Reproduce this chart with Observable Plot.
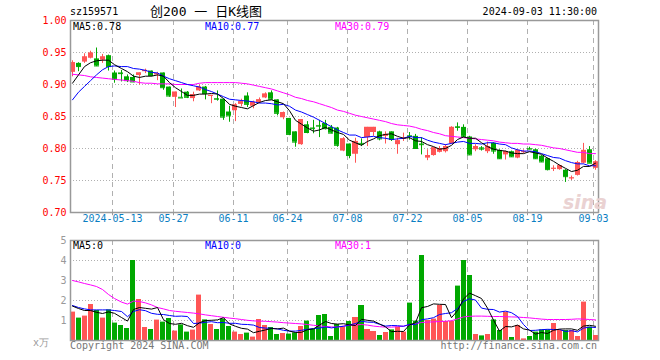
<!DOCTYPE html>
<html><head><meta charset="utf-8">
<script src="https://cdn.jsdelivr.net/npm/d3@7"></script>
<script src="https://cdn.jsdelivr.net/npm/@observablehq/plot@0.6"></script>
<style>
body{margin:0;background:#fff;}
#wrap{position:relative;width:660px;height:360px;overflow:hidden;font-family:"DejaVu Sans Mono",monospace;font-size:10px;}
.t{position:absolute;white-space:nowrap;line-height:10px;}
.plot{position:absolute;left:0;}
</style></head><body>
<div id="wrap">
  <div class="t" style="left:70px;top:7px;">sz159571</div>
  <div class="t" style="left:150px;top:5px;font-size:13px;line-height:13px;font-family:'DejaVu Sans Mono','Noto Sans CJK SC',monospace;">创200 一 日K线图</div>
  <div class="t" style="right:63px;top:7px;">2024-09-03 11:30:00</div>
  <div id="p1" class="plot" style="top:0"></div>
  <div id="p2" class="plot" style="top:230px"></div>
  <div class="t" style="left:73px;top:22px;color:#000">MA5:0.78</div>
  <div class="t" style="left:205px;top:22px;color:#0000ff">MA10:0.77</div>
  <div class="t" style="left:335px;top:22px;color:#ff00ff">MA30:0.79</div>
  <div class="t" style="left:73px;top:241px;color:#000">MA5:0</div>
  <div class="t" style="left:205px;top:241px;color:#0000ff">MA10:0</div>
  <div class="t" style="left:335px;top:241px;color:#ff00ff">MA30:1</div>
  <div class="t" style="left:33px;top:338px;color:#999">x万</div>
  <div class="t" style="left:70px;top:341px;color:#777">Copyright 2024 SINA.COM</div>
  <div class="t" style="right:63px;top:341px;color:#777">http://finance.sina.com.cn</div>
  <div class="t" style="left:563px;top:193px;font-family:'DejaVu Sans',sans-serif;font-size:19px;line-height:19px;font-weight:bold;font-style:italic;color:#ead2d2">sina</div>
</div>
<script>
// trading dates (MM-DD, 2024)
const dates = ["04-29","04-30",
"05-06","05-07","05-08","05-09","05-10","05-13","05-14","05-15","05-16","05-17","05-20","05-21","05-22","05-23","05-24","05-27","05-28","05-29","05-30","05-31",
"06-03","06-04","06-05","06-06","06-07","06-11","06-12","06-13","06-14","06-17","06-18","06-19","06-20","06-21","06-24","06-25","06-26","06-27","06-28",
"07-01","07-02","07-03","07-04","07-05","07-08","07-09","07-10","07-11","07-12","07-15","07-16","07-17","07-18","07-19","07-22","07-23","07-24","07-25","07-26","07-29","07-30","07-31",
"08-01","08-02","08-05","08-06","08-07","08-08","08-09","08-12","08-13","08-14","08-15","08-16","08-19","08-20","08-21","08-22","08-23","08-26","08-27","08-28","08-29","08-30",
"09-02","09-03"];
const tickDates = ["05-13","05-27","06-11","06-24","07-08","07-22","08-05","08-19","09-03"];
const tickLabels = ["2024-05-13","05-27","06-11","06-24","07-08","07-22","08-05","08-19","09-03"];
const priceTicks = [0.70,0.75,0.80,0.85,0.90,0.95,1.00];
const volTicks = [1,2,3,4,5];

const open = [.919,.933,.935,.941,.940,.938,.945,.918,.918,.912,
.911,.914,.920,.921,.915,.918,.896,.880,.880,.888,
.878,.890,.896,.882,.878,.877,.857,.859,.869,.882,
.866,.872,.879,.887,.876,.848,.847,.826,.806,.837,
.832,.836,.839,.833,.832,.796,.807,.791,.808,.817,
.825,.826,.819,.826,.806,.815,.820,.819,.807,.785,
.789,.794,.795,.807,.834,.833,.818,.798,.801,.795,
.808,.797,.790,.795,.785,.794,.800,.798,.788,.784,
.768,.767,.766,.753,.758,.777,.798,.769];
const high = [.937,.934,.948,.952,.957,.947,.946,.921,.922,.915,
.915,.918,.924,.921,.919,.918,.896,.888,.893,.889,
.888,.899,.897,.883,.890,.877,.866,.870,.877,.887,
.874,.879,.887,.890,.876,.857,.847,.826,.845,.842,
.844,.844,.844,.836,.833,.817,.807,.816,.815,.833,
.833,.827,.826,.826,.816,.824,.825,.822,.817,.798,
.801,.803,.806,.834,.840,.837,.819,.806,.803,.810,
.809,.798,.796,.796,.798,.798,.802,.799,.789,.785,
.773,.774,.767,.757,.780,.808,.803,.781];
const low = [.912,.920,.933,.940,.928,.933,.921,.902,.904,.903,
.903,.899,.917,.912,.906,.891,.880,.864,.879,.878,
.873,.889,.876,.870,.874,.844,.841,.842,.865,.864,
.862,.870,.878,.876,.851,.845,.820,.802,.805,.823,
.823,.817,.829,.823,.802,.795,.784,.777,.803,.803,
.819,.812,.807,.811,.791,.811,.813,.799,.790,.781,
.788,.793,.793,.807,.827,.817,.789,.795,.796,.792,
.791,.783,.782,.786,.784,.792,.798,.783,.778,.765,
.764,.766,.747,.750,.757,.776,.777,.766];
const close = [.934,.928,.943,.949,.929,.943,.928,.908,.917,.906,
.904,.918,.922,.914,.917,.895,.882,.888,.879,.880,
.884,.896,.886,.883,.877,.849,.851,.868,.873,.869,
.872,.876,.885,.877,.855,.856,.822,.810,.845,.825,
.831,.835,.831,.824,.805,.815,.789,.811,.807,.833,
.833,.815,.822,.814,.812,.816,.819,.800,.806,.789,
.801,.800,.803,.833,.833,.819,.790,.803,.799,.803,
.796,.784,.795,.787,.797,.795,.799,.784,.779,.767,
.769,.773,.756,.754,.778,.797,.777,.779];
const ma5 = [.902,.915,.928,.934,.937,.938,.938,.931,.925,.920,
.913,.911,.913,.913,.915,.913,.903,.895,.889,.883,
.883,.885,.885,.886,.885,.878,.869,.866,.864,.862,
.867,.872,.875,.876,.873,.870,.859,.844,.838,.832,
.827,.829,.833,.829,.825,.822,.813,.809,.805,.811,
.815,.820,.822,.823,.819,.816,.817,.812,.811,.806,
.803,.799,.800,.805,.814,.818,.816,.816,.809,.803,
.799,.797,.796,.793,.792,.792,.795,.793,.791,.785,
.780,.774,.769,.764,.766,.772,.772,.777];
const ma10 = [.876,.888,.897,.906,.915,.923,.928,.929,.928,.928,
.925,.924,.922,.919,.918,.913,.909,.906,.903,.900,
.898,.896,.892,.889,.885,.881,.877,.876,.875,.874,
.873,.871,.871,.870,.868,.869,.866,.860,.857,.853,
.849,.844,.839,.834,.829,.825,.821,.821,.817,.818,
.819,.817,.816,.814,.815,.816,.819,.817,.817,.813,
.810,.808,.806,.808,.810,.811,.808,.808,.807,.809,
.809,.807,.806,.801,.798,.796,.796,.795,.792,.789,
.786,.785,.781,.778,.776,.776,.773,.773];
const ma30 = [.916,.915,.914,.912,.911,.910,.909,.908,.907,.906,
.905,.903,.902,.902,.901,.901,.901,.900,.900,.900,
.900,.902,.903,.903,.903,.903,.903,.903,.902,.901,
.899,.897,.895,.893,.890,.887,.884,.880,.878,.875,
.873,.870,.867,.864,.860,.858,.855,.852,.850,.848,
.846,.844,.842,.839,.837,.836,.835,.833,.830,.828,
.825,.823,.820,.819,.818,.817,.816,.815,.814,.813,
.812,.810,.809,.808,.808,.807,.807,.806,.805,.803,
.801,.800,.798,.796,.794,.794,.792,.792];
// volume, 万手
const vol = [1.42,1.12,1.22,1.80,1.50,1.12,1.53,0.87,0.75,0.60,
4.00,2.05,0.65,0.55,1.02,0.92,1.10,0.47,0.78,0.42,
0.52,2.27,1.03,0.80,0.55,1.07,0.70,0.42,0.30,0.37,
0.17,1.05,0.75,0.65,0.30,0.35,0.32,0.38,0.70,0.97,
0.55,1.25,1.30,0.20,0.80,0.67,0.95,1.15,1.75,0.55,
0.45,0.25,0.40,0.53,0.67,0.42,1.87,0.97,4.25,1.00,
1.07,1.75,0.95,0.95,2.72,4.00,3.25,0.30,0.23,0.30,
1.03,0.50,1.42,0.15,0.75,0.08,0.20,0.42,0.53,0.53,
0.85,0.50,0.50,0.50,0.20,1.92,0.67,0.25];
const vma5 = [1.72,1.60,1.50,1.50,1.41,1.35,1.43,1.36,1.15,0.97,
1.55,1.65,1.61,1.57,1.65,1.04,0.85,0.81,0.86,0.74,
0.66,0.89,1.00,1.01,1.03,1.14,0.83,0.71,0.61,0.57,
0.39,0.46,0.53,0.60,0.58,0.62,0.47,0.40,0.41,0.54,
0.58,0.77,0.95,0.85,0.82,0.84,0.78,0.75,1.06,1.01,
0.97,0.83,0.68,0.44,0.46,0.45,0.78,0.89,1.64,1.70,
1.83,1.81,1.80,1.14,1.49,2.07,2.37,2.24,2.10,1.62,
1.02,0.47,0.70,0.68,0.77,0.58,0.52,0.32,0.40,0.35,
0.51,0.57,0.58,0.58,0.51,0.72,0.76,0.71];
const vma10 = [1.75,1.65,1.58,1.53,1.53,1.53,1.53,1.50,1.45,1.19,
1.45,1.54,1.49,1.36,1.31,1.30,1.25,1.21,1.22,1.20,
0.85,0.87,0.91,0.94,0.89,0.90,0.86,0.86,0.81,0.80,
0.77,0.65,0.62,0.61,0.58,0.51,0.47,0.47,0.51,0.56,
0.60,0.62,0.68,0.63,0.68,0.71,0.78,0.85,0.96,0.92,
0.91,0.81,0.72,0.75,0.74,0.71,0.81,0.79,1.04,1.08,
1.14,1.30,1.35,1.39,1.60,1.95,2.09,2.02,1.62,1.56,
1.55,1.42,1.47,1.39,1.20,0.80,0.50,0.51,0.54,0.56,
0.55,0.55,0.45,0.49,0.43,0.62,0.67,0.65];
const vma30 = [3.00,2.93,2.85,2.78,2.70,2.55,2.30,2.10,1.92,1.82,
1.97,1.95,1.88,1.78,1.65,1.58,1.50,1.46,1.43,1.40,
1.37,1.33,1.28,1.24,1.20,1.16,1.12,1.09,1.05,1.01,
0.98,0.97,0.96,0.94,0.92,0.89,0.87,0.85,0.83,0.80,
0.76,0.73,0.70,0.68,0.67,0.72,0.76,0.78,0.80,0.77,
0.72,0.69,0.67,0.67,0.69,0.72,0.78,0.83,0.90,0.92,
0.93,0.95,0.96,0.99,1.08,1.18,1.21,1.22,1.22,1.21,
1.20,1.20,1.19,1.18,1.17,1.15,1.13,1.10,1.07,1.05,
1.05,1.05,1.05,1.06,1.08,1.07,1.05,1.03];

const RED = "#ff5555", GREEN = "#00a800", GRID = "#b0b0b0";
const rows = dates.map((d, i) => ({
  i, o: open[i], h: high[i], l: low[i], c: close[i],
  col: close[i] >= open[i] ? RED : GREEN,
  ma5: ma5[i], ma10: ma10[i], ma30: ma30[i],
  v: vol[i], v5: vma5[i], v10: vma10[i], v30: vma30[i]
}));
const tickIdx = tickDates.map(d => dates.indexOf(d));
const HW = 0.42;
const xOpt = {domain: [-0.4, 87.42], axis: null, round: true};
const style = {fontFamily: "'DejaVu Sans Mono', monospace", fontSize: "10px", background: "transparent", overflow: "visible"};

const p1 = Plot.plot({
  width: 660, height: 230,
  marginLeft: 70, marginRight: 62, marginTop: 20, marginBottom: 18,
  x: xOpt,
  y: {domain: [0.70, 1.00], axis: null},
  color: {type: "identity"},
  style,
  marks: [
    Plot.ruleY(priceTicks.slice(1, -1), {y: d => d, stroke: GRID, strokeDasharray: "1,2"}),
    Plot.ruleX(tickIdx, {x: d => d, dx: -2, stroke: GRID, strokeDasharray: "5,4"}),
    Plot.ruleX(tickIdx, {x: d => d, dx: -2, y1: 0.70, y2: 0.695, stroke: "#999"}),
    Plot.ruleX(rows, {x: "i", y1: "l", y2: "h", stroke: "col"}),
    Plot.rect(rows, {x1: d => d.i - HW, x2: d => d.i + HW, y1: "o", y2: "c", fill: "col"}),
    Plot.ruleY(rows, {x1: d => d.i - HW, x2: d => d.i + HW, y: "c", stroke: "col"}),
    Plot.line(rows, {x: "i", y: "ma30", stroke: "#ff00ff", strokeWidth: 1}),
    Plot.line(rows, {x: "i", y: "ma10", stroke: "#0000ff", strokeWidth: 1}),
    Plot.line(rows, {x: "i", y: "ma5", stroke: "#000000", strokeWidth: 1}),
    Plot.frame({stroke: "#999", strokeWidth: 1.5}),
    Plot.text(priceTicks, {y: d => d, text: d => d.toFixed(2), frameAnchor: "left", dx: -4, textAnchor: "end", fill: "#ff0000"}),
    Plot.text(tickIdx, {x: d => d, text: (d, k) => tickLabels[k], frameAnchor: "bottom", dy: 9, dx: -2, fill: "#0a7ec2"})
  ]
});
document.getElementById("p1").appendChild(p1);

const p2 = Plot.plot({
  width: 660, height: 130,
  marginLeft: 70, marginRight: 62, marginTop: 10, marginBottom: 20,
  x: xOpt,
  y: {domain: [0, 5], axis: null},
  color: {type: "identity"},
  style,
  marks: [
    Plot.ruleY(volTicks.slice(0, -1), {y: d => d, stroke: GRID, strokeDasharray: "1,2"}),
    Plot.ruleX(tickIdx, {x: d => d, dx: -2, stroke: GRID, strokeDasharray: "5,4"}),
    Plot.rect(rows, {x1: d => d.i - HW, x2: d => d.i + HW, y1: 0, y2: "v", fill: "col"}),
    Plot.line(rows, {x: "i", y: "v30", stroke: "#ff00ff", strokeWidth: 1}),
    Plot.line(rows, {x: "i", y: "v10", stroke: "#0000ff", strokeWidth: 1}),
    Plot.line(rows, {x: "i", y: "v5", stroke: "#000000", strokeWidth: 1}),
    Plot.frame({stroke: "#999", strokeWidth: 1.5}),
    Plot.text(volTicks, {y: d => d, text: d => String(d), frameAnchor: "left", dx: -4, textAnchor: "end", fill: "#999"})
  ]
});
document.getElementById("p2").appendChild(p2);
</script>
</body></html>
